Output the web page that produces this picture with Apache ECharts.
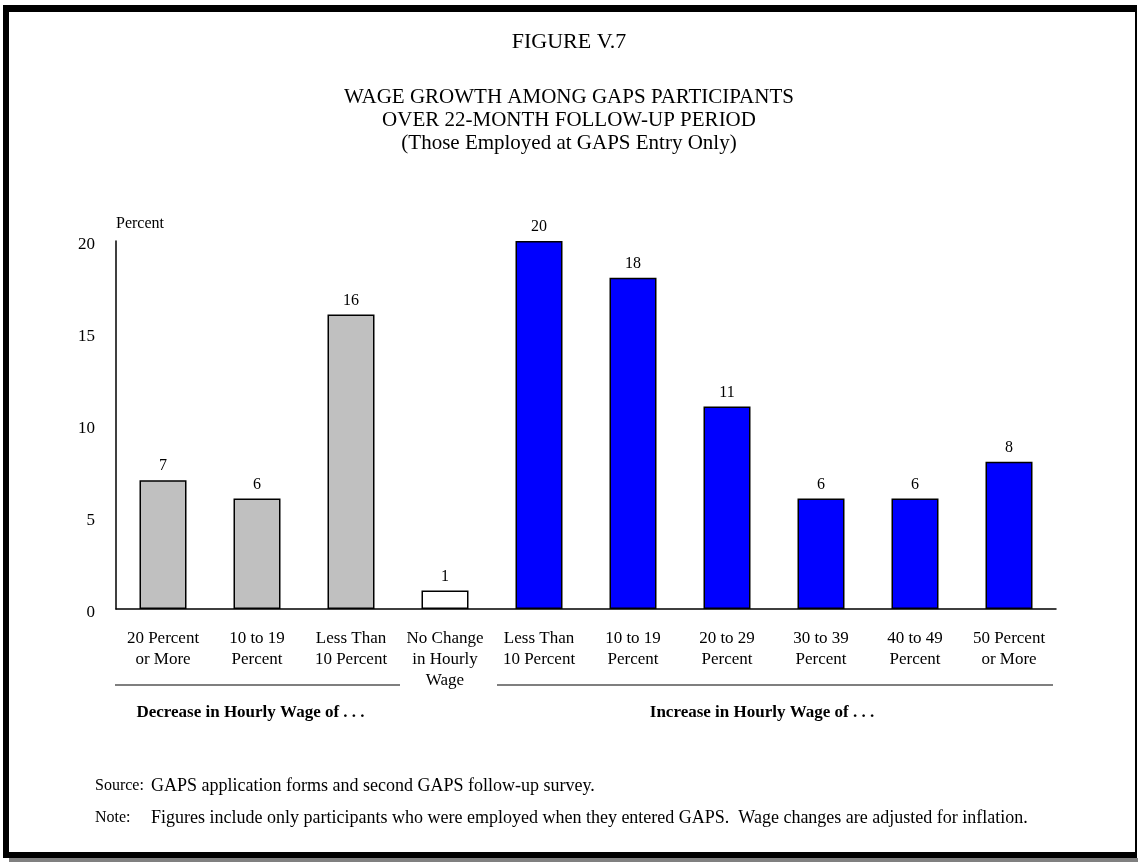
<!DOCTYPE html>
<html>
<head>
<meta charset="utf-8">
<script src="https://cdn.jsdelivr.net/npm/echarts@6/dist/echarts.min.js"></script>
<style>
html,body{margin:0;padding:0;background:#fff;}
#chart{width:1138px;height:862px;}
</style>
</head>
<body>
<div id="chart"></div>
<script>
const categories = ['20 Percent\nor More','10 to 19\nPercent','Less Than\n10 Percent','No Change\nin Hourly\nWage','Less Than\n10 Percent','10 to 19\nPercent','20 to 29\nPercent','30 to 39\nPercent','40 to 49\nPercent','50 Percent\nor More'];
const values = [7, 6, 16, 1, 20, 18, 11, 6, 6, 8];
const groupOf = ['dec','dec','dec','none','inc','inc','inc','inc','inc','inc'];
const yTicks = [0, 5, 10, 15, 20];
const titleLines = ['FIGURE V.7', 'WAGE GROWTH AMONG GAPS PARTICIPANTS', 'OVER 22-MONTH FOLLOW-UP PERIOD', '(Those Employed at GAPS Entry Only)'];
const groupLabels = {dec: 'Decrease in Hourly Wage of . . .', inc: 'Increase in Hourly Wage of . . .'};
const sourceText = 'GAPS application forms and second GAPS follow-up survey.';
const noteText = 'Figures include only participants who were employed when they entered GAPS.  Wage changes are adjusted for inflation.';

const colors = {dec: '#C0C0C0', none: '#FFFFFF', inc: '#0000FF'};
const FONT = '"Liberation Serif", "Times New Roman", serif';

const chart = echarts.init(document.getElementById('chart'));
const option = {
  animation: false,
  backgroundColor: '#fff',
  textStyle: {fontFamily: FONT, color: '#000'},
  title: {
    text: titleLines[0],
    subtext: titleLines.slice(1).join('\n'),
    left: 'center', top: 26, itemGap: 33,
    textStyle: {fontFamily: FONT, fontSize: 22, lineHeight: 22, fontWeight: 'normal', color: '#000'},
    subtextStyle: {fontFamily: FONT, fontSize: 21, color: '#000', lineHeight: 23}
  },
  grid: {left: 116, top: 241, width: 940, height: 368, containLabel: false},
  xAxis: {
    type: 'category', data: categories,
    axisLine: {show: true, lineStyle: {color: '#000', width: 1.5}},
    axisTick: {show: false},
    axisLabel: {interval: 0, margin: 19, fontFamily: FONT, fontSize: 17, lineHeight: 21, color: '#000'}
  },
  yAxis: {
    type: 'value', min: 0, max: 20, interval: 5,
    name: 'Percent', nameLocation: 'end', nameGap: 9,
    nameTextStyle: {fontFamily: FONT, fontSize: 16, color: '#000', align: 'left', verticalAlign: 'bottom'},
    axisLine: {show: true, lineStyle: {color: '#000', width: 1.5}},
    axisTick: {show: false},
    splitLine: {show: false},
    axisLabel: {margin: 21, fontFamily: FONT, fontSize: 17, color: '#000', verticalAlign: 'top', lineHeight: 8,
      formatter: v => yTicks.includes(v) ? String(v) : ''}
  },
  series: [{
    type: 'bar', barWidth: 47,
    data: values.map((v, i) => ({value: v, itemStyle: {color: colors[groupOf[i]]}})),
    itemStyle: {borderColor: '#000', borderWidth: 1.5},
    label: {show: true, position: 'top', distance: 6, fontFamily: FONT, fontSize: 16, color: '#000'}
  }]
};
chart.setOption(option);

function bandEdges(i) {
  const c = chart.convertToPixel({xAxisIndex: 0}, i);
  const c2 = chart.convertToPixel({xAxisIndex: 0}, Math.min(i + 1, categories.length - 1));
  const c1 = chart.convertToPixel({xAxisIndex: 0}, Math.max(i - 1, 0));
  const band = (i < categories.length - 1) ? (c2 - c) : (c - c1);
  return [c - band / 2, c + band / 2];
}
const lineY = 685;
const decIdx = groupOf.map((g, i) => g === 'dec' ? i : -1).filter(i => i >= 0);
const incIdx = groupOf.map((g, i) => g === 'inc' ? i : -1).filter(i => i >= 0);
const decL = bandEdges(decIdx[0])[0] - 1, decR = bandEdges(decIdx[decIdx.length - 1])[1] + 2;
const incL = bandEdges(incIdx[0])[0] + 5, incR = bandEdges(incIdx[incIdx.length - 1])[1] - 3;

chart.setOption({
  graphic: [
    // page frame
    {type: 'rect', shape: {x: 3, y: 5, width: 1134, height: 7}, style: {fill: '#000'}},
    {type: 'rect', shape: {x: 3, y: 5, width: 6, height: 853}, style: {fill: '#000'}},
    {type: 'rect', shape: {x: 1135, y: 5, width: 2, height: 853}, style: {fill: '#000'}},
    {type: 'rect', shape: {x: 3, y: 852, width: 1134, height: 6}, style: {fill: '#000'}},
    {type: 'rect', shape: {x: 9, y: 858, width: 1129, height: 4}, style: {fill: '#808080'}},
    // group brackets
    {type: 'line', shape: {x1: decL, y1: lineY, x2: decR, y2: lineY}, style: {stroke: '#000', lineWidth: 1.2}},
    {type: 'line', shape: {x1: incL, y1: lineY, x2: incR, y2: lineY}, style: {stroke: '#000', lineWidth: 1.2}},
    {type: 'text', x: (decL + decR) / 2 - 7, y: 713, style: {text: groupLabels.dec, font: 'bold 17px ' + FONT, fill: '#000', textAlign: 'center', textVerticalAlign: 'middle'}},
    {type: 'text', x: (incL + incR) / 2 - 13, y: 713, style: {text: groupLabels.inc, font: 'bold 17px ' + FONT, fill: '#000', textAlign: 'center', textVerticalAlign: 'middle'}},
    // source & note
    {type: 'text', x: 95, y: 786, style: {text: 'Source:', font: '16px ' + FONT, fill: '#000', textVerticalAlign: 'middle'}},
    {type: 'text', x: 151, y: 786, style: {text: sourceText, font: '18px ' + FONT, fill: '#000', textVerticalAlign: 'middle'}},
    {type: 'text', x: 95, y: 818, style: {text: 'Note:', font: '16px ' + FONT, fill: '#000', textVerticalAlign: 'middle'}},
    {type: 'text', x: 151, y: 818, style: {text: noteText, font: '18px ' + FONT, fill: '#000', textVerticalAlign: 'middle'}}
  ]
});
</script>
</body>
</html>
